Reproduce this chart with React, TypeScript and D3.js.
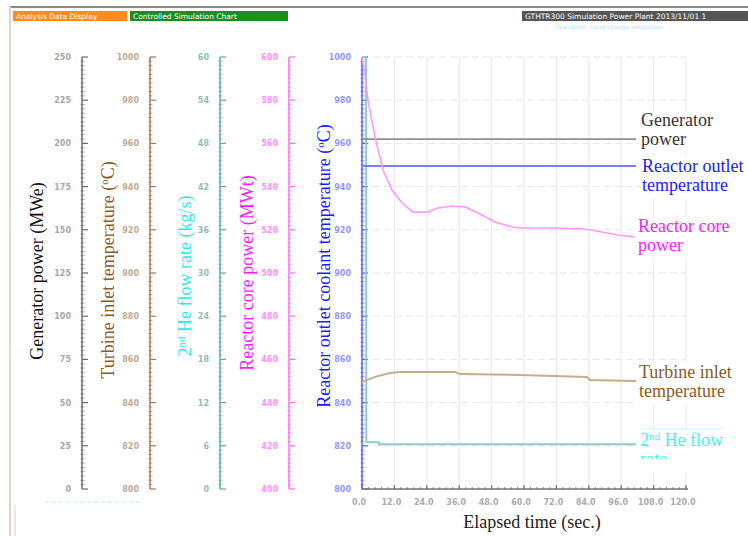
import React from "react";
import * as d3 from "d3";

// ---- tick values ----
const timeTicks = [0, 12, 24, 36, 48, 60, 72, 84, 96, 108, 120];
const genTicks = [0, 25, 50, 75, 100, 125, 150, 175, 200, 225, 250];
const turbineTicks = [800, 820, 840, 860, 880, 900, 920, 940, 960, 980, 1000];
const heTicks = [0, 6, 12, 18, 24, 30, 36, 42, 48, 54, 60];
const coreTicks = [400, 420, 440, 460, 480, 500, 520, 540, 560, 580, 600];
const outletTicks = [800, 820, 840, 860, 880, 900, 920, 940, 960, 980, 1000];

// ---- series ----
const generatorTime = [0, 101.5];
const generatorPower = [202.5, 202.5];

const outletTime = [0, 101.5];
const outletTemp = [949.5, 949.5];

const coreTime = [0, 1.1, 2.2, 4.8, 7.8, 11.1, 14.8, 18.9, 24.1, 28.1, 33.3, 38.1, 43, 49.3, 55.6, 59.3, 71.5, 82.6, 88.9, 94.8, 101.1];
const corePower = [600, 591.7, 580.1, 563, 547.7, 538.4, 532.4, 528.2, 528.2, 530.1, 531, 530.6, 527.8, 523.6, 521.3, 520.8, 520.8, 520.4, 519, 517.6, 516.7];

const turbineTime = [0, 4.8, 10.4, 14.1, 34.4, 36.3, 58.5, 83.3, 84.4, 101.5];
const turbineTemp = [849.5, 851.9, 853.7, 854.2, 854.2, 853.2, 852.8, 851.9, 850.5, 850];

const heTime = [0, 1.5, 1.6, 6.3, 6.4, 101.5];
const heFlow = [60, 60, 6.5, 6.5, 6.2, 6.2];

const W = 748;
const H = 536;
const TOP = 57;
const BOTTOM = 489;
const LEFT = 362;
const RIGHT = 686;
const SERIF = "'Liberation Serif', 'Times New Roman', serif";
const SANS = "'DejaVu Sans', sans-serif";

const xScale = d3.scaleLinear().domain([0, 120]).range([LEFT, RIGHT]);
const genScale = d3.scaleLinear().domain([0, 250]).range([BOTTOM, TOP]);
const turbineScale = d3.scaleLinear().domain([800, 1000]).range([BOTTOM, TOP]);
const heScale = d3.scaleLinear().domain([0, 60]).range([BOTTOM, TOP]);
const coreScale = d3.scaleLinear().domain([400, 600]).range([BOTTOM, TOP]);
const outletScale = d3.scaleLinear().domain([800, 1000]).range([BOTTOM, TOP]);

function pathOf(ts: number[], vs: number[], ys: d3.ScaleLinear<number, number>) {
  const line = d3
    .line<number>()
    .x((_, i) => xScale(ts[i]))
    .y((v) => ys(v));
  return line(vs) || "";
}

function YAxis(props: {
  x: number;
  scale: d3.ScaleLinear<number, number>;
  ticks: number[];
  color: string;
  labelColor: string;
}) {
  const { x, scale, ticks, color, labelColor } = props;
  const minors: number[] = [];
  for (let i = 0; i < ticks.length - 1; i++) {
    const a = ticks[i];
    const b = ticks[i + 1];
    for (let k = 1; k < 10; k++) minors.push(a + ((b - a) * k) / 10);
  }
  return (
    <g>
      <line x1={x} x2={x} y1={TOP} y2={BOTTOM} stroke={color} strokeWidth={1.5} />
      {minors.map((m, i) => (
        <line key={"m" + i} x1={x - 1.5} x2={x + 2.5} y1={scale(m)} y2={scale(m)} stroke={color} strokeWidth={0.8} opacity={0.8} />
      ))}
      {ticks.map((t, i) => (
        <g key={"t" + i}>
          <line x1={x} x2={x + 6} y1={scale(t)} y2={scale(t)} stroke={color} strokeWidth={1.2} />
          <text x={x - 11} y={scale(t) + 3} textAnchor="end" fontFamily={SANS} fontSize={8} fontWeight="bold" fill={labelColor} opacity={0.65}>
            {t}
          </text>
        </g>
      ))}
    </g>
  );
}

function AxisTitle(props: { x: number; y: number; color: string; children: React.ReactNode }) {
  return (
    <text transform={`translate(${props.x},${props.y}) rotate(-90)`} textAnchor="middle" fontFamily={SERIF} fontSize={18} fill={props.color}>
      {props.children}
    </text>
  );
}

function Deg() {
  return (
    <tspan dy={-6} fontSize={11}>
      o
    </tspan>
  );
}

function SideLabel(props: { x: number; y: number; color: string; lines: React.ReactNode[]; w: number }) {
  return (
    <g>
      <rect x={props.x - 2} y={props.y - 15} width={props.w} height={props.lines.length * 19 + 4} fill="#fff" />
      {props.lines.map((l, i) => (
        <text key={i} x={props.x} y={props.y + i * 19} fontFamily={SERIF} fontSize={18} fill={props.color}>
          {l}
        </text>
      ))}
    </g>
  );
}

export default function App() {
  const xMinor: number[] = d3.range(0, 120.01, 2.4);
  return (
    <svg width={W} height={H} style={{ position: "absolute", left: 0, top: 0, background: "#fff" }}>
      <rect x={0} y={0} width={W} height={H} fill="#fff" />
      {/* frame */}
      <line x1={10} x2={W} y1={7} y2={7} stroke="#8a8a84" strokeWidth={2} />
      <line x1={10} x2={10} y1={7} y2={H} stroke="#ddd6c8" strokeWidth={2} />
      {/* top buttons */}
      <rect x={13} y={11} width={114} height={10} fill="#ff8a1e" />
      <text x={16} y={19} fontFamily={SANS} fontSize={7.5} fill="#fff">Analysis Data Display</text>
      <rect x={130} y={11} width={158} height={10} fill="#19901e" />
      <text x={133} y={19} fontFamily={SANS} fontSize={7.5} fill="#fff">Controlled Simulation Chart</text>
      <rect x={522} y={11} width={226} height={10} fill="#555" />
      <text x={525} y={19} fontFamily={SANS} fontSize={7.5} fill="#fff">GTHTR300 Simulation Power Plant 2013/11/01 1</text>
      <text x={555} y={29} fontFamily={SANS} fontSize={6} fill="#9adada" opacity={0.7}>Operation : Load change simulation</text>

      {/* grid */}
      {outletTicks.map((t, i) => (
        <line key={"gh" + i} x1={LEFT} x2={RIGHT} y1={outletScale(t)} y2={outletScale(t)} stroke="#e6e6e6" strokeWidth={1} strokeDasharray="7,4" />
      ))}
      {timeTicks.map((t, i) =>
        i === 0 ? null : (
          <line key={"gv" + i} x1={xScale(t)} x2={xScale(t)} y1={TOP} y2={BOTTOM} stroke="#ebebeb" strokeWidth={1.2} />
        )
      )}

      {/* y axes */}
      <YAxis x={82} scale={genScale} ticks={genTicks} color="#6c6c6c" labelColor="#777" />
      <YAxis x={150} scale={turbineScale} ticks={turbineTicks} color="#a07a55" labelColor="#a07a55" />
      <YAxis x={220} scale={heScale} ticks={heTicks} color="#5fa8a8" labelColor="#4f9a9a" />
      <YAxis x={289} scale={coreScale} ticks={coreTicks} color="#ff6cff" labelColor="#ff55ff" />
      <YAxis x={362} scale={outletScale} ticks={outletTicks} color="#5a5aff" labelColor="#5a5aff" />

      {/* x axis */}
      <line x1={LEFT} x2={688} y1={BOTTOM} y2={BOTTOM} stroke="#777" strokeWidth={1.5} />
      {xMinor.map((t, i) => (
        <line key={"xm" + i} x1={xScale(t)} x2={xScale(t)} y1={BOTTOM - 2} y2={BOTTOM + 1} stroke="#777" strokeWidth={0.8} />
      ))}
      {timeTicks.map((t, i) => (
        <g key={"xt" + i}>
          <line x1={xScale(t)} x2={xScale(t)} y1={BOTTOM - 4} y2={BOTTOM} stroke="#777" strokeWidth={1.2} />
          <text x={xScale(t) - 3} y={505} textAnchor="middle" fontFamily={SANS} fontSize={8} fontWeight="bold" fill="#888" opacity={0.7}>
            {d3.format(".1f")(t)}
          </text>
        </g>
      ))}
      <text x={532} y={528} textAnchor="middle" fontFamily={SERIF} fontSize={18} fill="#222">
        Elapsed time (sec.)
      </text>

      {/* series */}
      <path d={pathOf(heTime, heFlow, heScale)} fill="none" stroke="#8ccccc" strokeWidth={2} />
      <path d={pathOf(generatorTime, generatorPower, genScale)} fill="none" stroke="#8f8f8f" strokeWidth={1.8} />
      <path d={pathOf(outletTime, outletTemp, outletScale)} fill="none" stroke="#7c7cff" strokeWidth={2} />
      <path d={pathOf(coreTime, corePower, coreScale)} fill="none" stroke="#ff99ff" strokeWidth={1.6} />
      <path d={pathOf(turbineTime, turbineTemp, turbineScale)} fill="none" stroke="#c9ab8c" strokeWidth={2} />

      {/* axis titles */}
      <AxisTitle x={43} y={271} color="#111">Generator power (MWe)</AxisTitle>
      <AxisTitle x={114} y={270} color="#8c5a28">
        Turbine inlet temperature (<Deg />
        <tspan dy={6}>C)</tspan>
      </AxisTitle>
      <AxisTitle x={191} y={276} color="#33e6e6">
        2<tspan dy={-6} fontSize={11}>nd</tspan>
        <tspan dy={6}> He flow rate (kg/s)</tspan>
      </AxisTitle>
      <AxisTitle x={253} y={273} color="#ff1aff">Reactor core power (MWt)</AxisTitle>
      <AxisTitle x={330} y={266} color="#1a1aff">
        Reactor outlet coolant temperature (<Deg />
        <tspan dy={6}>C)</tspan>
      </AxisTitle>

      {/* side labels */}
      <SideLabel x={641} y={126} color="#333" w={80} lines={["Generator", "power"]} />
      <SideLabel x={642} y={172} color="#1a1aff" w={106} lines={["Reactor outlet", "temperature"]} />
      <SideLabel x={638} y={232} color="#ff1aff" w={96} lines={["Reactor core", "power"]} />
      <SideLabel x={639} y={378} color="#8c5a28" w={96} lines={["Turbine inlet", "temperature"]} />
      <g>
        <rect x={638} y={430} width={90} height={30} fill="#fff" />
        <line x1={640} x2={722} y1={429} y2={429} stroke="#bff" strokeWidth={1} />
        <text x={640} y={446} fontFamily={SERIF} fontSize={18} fill="#33ffee">
          2<tspan dy={-6} fontSize={11}>nd</tspan>
          <tspan dy={6}> He flow</tspan>
        </text>
        <text x={640} y={465} fontFamily={SERIF} fontSize={18} fill="#33ffee">rate</text>
        <rect x={636} y={459} width={112} height={14} fill="#fff" />
      </g>

      {/* bottom-left panel remnants */}
      <rect x={15} y={502} width={285} height={34} fill="#fff" />
      <line x1={45} x2={140} y1={502} y2={502} stroke="#bfeeee" strokeWidth={1} strokeDasharray="4,3" />
      <line x1={15} x2={15} y1={505} y2={536} stroke="#f0d8f0" strokeWidth={1.5} />
    </svg>
  );
}
